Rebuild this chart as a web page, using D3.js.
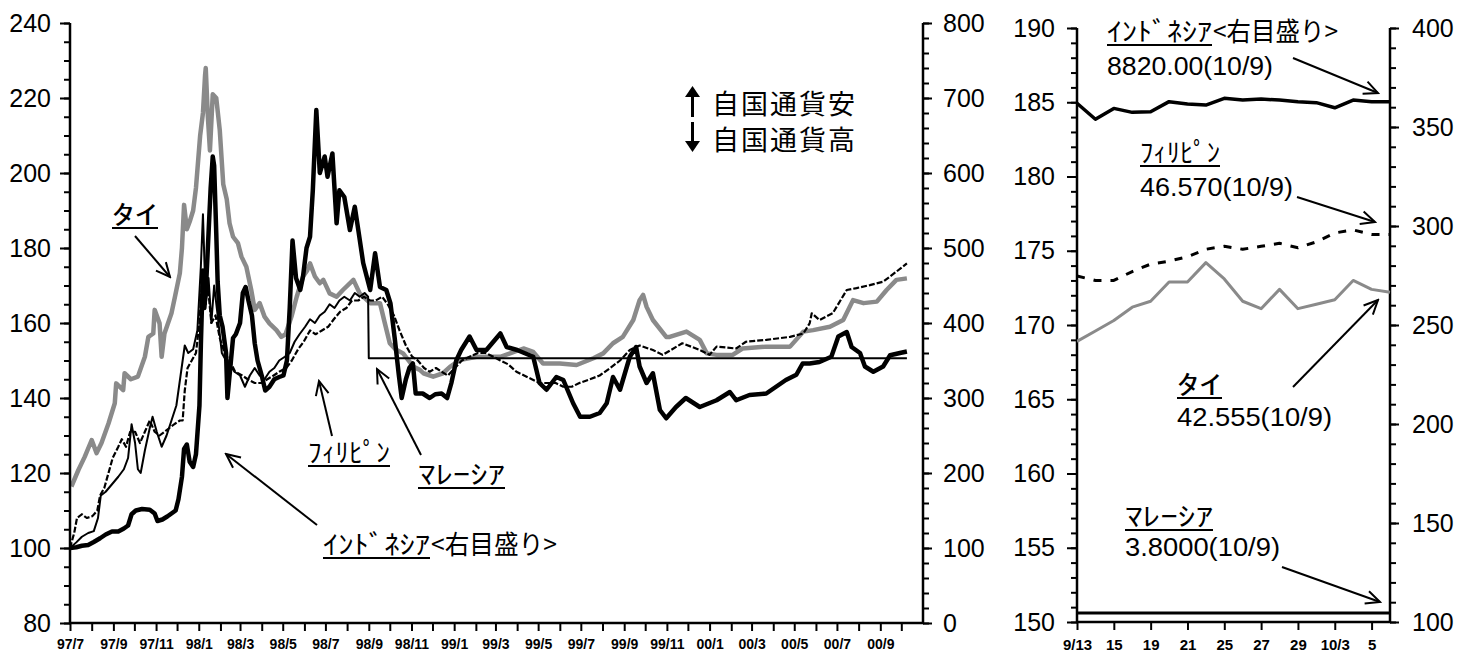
<!DOCTYPE html>
<html>
<head>
<meta charset="utf-8">
<script src="https://cdn.jsdelivr.net/npm/d3@7"></script>
<style>
  body { margin: 0; background: #fff; }
  svg { display: block; background: #fff; }
  .num { font-family: "Liberation Sans", Arial, sans-serif; }
  .jp { font-family: "Noto Sans CJK JP", sans-serif; }
</style>
</head>
<body>
<svg id="chart" width="1469" height="657"></svg>
<script>
"use strict";

// ---- long-run index (97/7 = 100), left panel ----
const thai = [
  ["97-07-03",116.4],["97-07-13",120.8],["97-07-22",124.3],["97-08-01",128.8],["97-08-08",125.3],["97-08-15",128],
  ["97-08-25",133.2],["97-09-03",138.6],["97-09-05",143.9],["97-09-15",142.1],["97-09-17",146.6],["97-09-26",145],
  ["97-10-06",145.7],["97-10-16",151],["97-10-21",156.3],["97-10-28",157.2],["97-10-30",163.5],["97-11-06",159.9],
  ["97-11-09",151],["97-11-13",157.2],["97-11-23",162.6],["97-11-28",167],["97-12-05",173.3],["97-12-08",180],
  ["97-12-11",191.5],["97-12-15",185],["97-12-19",187],["97-12-24",190],["97-12-28",196],["98-01-03",210],
  ["98-01-07",216],["98-01-10",226],["98-01-11",228],["98-01-14",215],["98-01-17",206],["98-01-21",221],
  ["98-01-26",220],["98-01-31",211.5],["98-02-05",197],["98-02-10",193],["98-02-14",186.6],["98-02-19",183],
  ["98-02-26",181.3],["98-03-03",177.7],["98-03-10",175],["98-03-17",168.8],["98-03-22",163.5],["98-03-29",165.3],
  ["98-04-05",161.7],["98-04-12",159.9],["98-04-22",158.1],["98-04-29",156.3],["98-05-05",157],["98-05-14",162],
  ["98-05-21",167],["98-05-30",172.4],["98-06-05",174],["98-06-09",175.9],["98-06-16",172.4],["98-06-23",170.6],
  ["98-06-28",171.5],["98-07-07",167.9],["98-07-17",167],["98-07-26",168.8],["98-08-10",171.5],["98-08-19",167.9],
  ["98-09-03",165.3],["98-09-17",165.3],["98-09-24",159.9],["98-10-01",154.6],["98-10-09",153],["98-10-20",151.9],
  ["98-11-04",148.3],["98-11-13",147.5],["98-11-18",146.6],["98-12-02",145.7],["98-12-16",146.6],["98-12-26",148.3],
  ["99-01-09",150.1],["99-02-02",151],["99-03-08",151],["99-04-10",153.2],["99-04-24",152.3],["99-05-08",149.2],
  ["99-06-01",149.2],["99-06-25",148.8],["99-07-19",150.6],["99-08-02",151.9],["99-08-16",154.6],["99-08-30",156.3],
  ["99-09-14",160.8],["99-09-23",166.1],["99-09-28",167.5],["99-10-03",164.3],["99-10-12",160.8],["99-10-31",156.3],
  ["99-11-05",156.3],["99-11-29",157.7],["99-12-18",155.5],["99-12-28",151.9],["00-01-11",151.5],["00-02-03",151.5],
  ["00-02-17",153.2],["00-03-22",153.7],["00-04-25",153.7],["00-05-14",157.7],["00-05-28",158.1],["00-06-21",159],
  ["00-07-10",160.8],["00-07-24",166.1],["00-08-08",165.3],["00-08-27",165.7],["00-09-10",168.8],["00-09-24",171.5],
  ["00-10-09",171.9]
];

const malaysia = [
  ["97-07-01",100],["97-07-10",101.5],["97-07-18",103],["97-07-27",104],["97-08-04",104.5],["97-08-10",108],
  ["97-08-14",114],["97-08-21",115],["97-08-30",117],["97-09-08",119],["97-09-16",121],["97-09-22",124],
  ["97-09-27",133],["97-10-02",128],["97-10-06",121],["97-10-10",120],["97-10-16",126],["97-10-23",132],
  ["97-10-27",135],["97-11-02",131],["97-11-09",127],["97-11-16",130],["97-11-23",134],["97-11-30",138],
  ["97-12-06",146],["97-12-12",154],["97-12-17",152],["97-12-24",153],["97-12-30",158],["98-01-04",175],
  ["98-01-07",189],["98-01-11",165],["98-01-15",172],["98-01-19",160],["98-01-23",170],["98-01-28",162],
  ["98-02-03",152],["98-02-09",150],["98-02-14",149],["98-02-21",147],["98-03-01",146],["98-03-08",143],
  ["98-03-15",146],["98-03-22",148],["98-03-29",146],["98-04-05",145],["98-04-12",147],["98-04-19",148],
  ["98-04-26",150],["98-05-04",151],["98-05-11",152],["98-05-18",155],["98-05-25",157],["98-06-02",159],
  ["98-06-09",161],["98-06-16",160],["98-06-23",162],["98-06-30",163],["98-07-07",165],["98-07-14",164],
  ["98-07-21",166],["98-07-28",167],["98-08-05",166],["98-08-12",168],["98-08-19",167],["98-08-26",168],
  ["98-08-31",167],["98-09-01",150.6],["00-10-09",150.6]
];

const philippines = [
  ["97-07-01",100],["97-07-07",104],["97-07-11",108],["97-07-18",109],["97-07-25",108],["97-08-02",108.5],
  ["97-08-09",110],["97-08-13",114],["97-08-19",116],["97-08-25",120],["97-08-31",124],["97-09-08",127],
  ["97-09-13",129],["97-09-19",127],["97-09-25",131],["97-10-02",131],["97-10-09",128],["97-10-16",131],
  ["97-10-23",134],["97-10-30",131],["97-11-06",130],["97-11-13",131],["97-11-20",132],["97-11-27",133],
  ["97-12-05",134],["97-12-09",134],["97-12-12",142],["97-12-16",148],["97-12-22",150],["97-12-28",152],
  ["98-01-02",160],["98-01-06",172],["98-01-10",165],["98-01-14",170],["98-01-19",160],["98-01-25",162],
  ["98-01-31",156],["98-02-07",152],["98-02-14",150],["98-02-22",147],["98-03-04",146],["98-03-12",145],
  ["98-03-22",144],["98-04-01",144],["98-04-09",145],["98-04-18",146],["98-04-26",147],["98-05-06",148],
  ["98-05-14",150],["98-05-23",153],["98-05-31",155],["98-06-09",158],["98-06-17",157],["98-06-26",158],
  ["98-07-05",159],["98-07-13",161],["98-07-22",163],["98-07-31",164],["98-08-08",166],["98-08-17",166],
  ["98-08-25",167],["98-09-03",166],["98-09-11",166],["98-09-20",167],["98-09-28",165],["98-10-07",162],
  ["98-10-15",158],["98-10-24",154],["98-11-02",151],["98-11-10",150],["98-11-19",148],["98-11-27",147],
  ["98-12-06",148],["98-12-14",147],["98-12-23",146],["99-01-02",148],["99-01-12",150],["99-01-23",151],
  ["99-02-04",152],["99-02-15",152],["99-02-26",151],["99-03-08",150],["99-03-19",149],["99-03-31",147],
  ["99-04-11",146],["99-04-22",145],["99-05-03",144],["99-05-15",144],["99-05-26",144],["99-06-06",143],
  ["99-06-18",143],["99-06-29",144],["99-07-14",145],["99-07-28",146],["99-08-12",148],["99-08-26",150],
  ["99-09-09",152.8],["99-09-23",154],["99-10-12",152.8],["99-10-26",151.5],["99-11-23",154.6],["99-12-18",152.8],
  ["00-01-01",151.5],["00-01-11",153.7],["00-02-08",153.2],["00-02-22",155],["00-03-22",155.5],["00-04-25",156.3],
  ["00-05-14",157.2],["00-05-23",159.9],["00-05-26",162.6],["00-06-06",160.8],["00-06-25",162.6],["00-07-15",168.8],
  ["00-07-29",169.3],["00-08-17",170.1],["00-09-05",171],["00-09-24",173.7],["00-10-09",175.9]
];

// Indonesia is read on the right-hand scale (0-800)
const indonesia = [
  ["97-07-01",100],["97-07-10",101],["97-07-18",103],["97-07-27",104],["97-08-04",108],["97-08-13",113],
  ["97-08-21",118],["97-08-30",122],["97-09-08",122],["97-09-16",126],["97-09-22",130],["97-09-27",145],
  ["97-10-03",150],["97-10-12",152],["97-10-23",151],["97-10-30",146],["97-11-03",136],["97-11-10",138],
  ["97-11-17",142],["97-11-23",146],["97-11-29",150],["97-12-03",165],["97-12-08",195],["97-12-11",232],
  ["97-12-15",238],["97-12-19",215],["97-12-24",208],["97-12-28",225],["98-01-02",290],["98-01-04",370],
  ["98-01-07",470],["98-01-09",420],["98-01-12",460],["98-01-15",520],["98-01-18",580],["98-01-21",622],
  ["98-01-23",610],["98-01-26",520],["98-01-28",455],["98-01-31",410],["98-02-04",395],["98-02-09",360],
  ["98-02-11",300],["98-02-14",330],["98-02-19",380],["98-02-23",385],["98-03-01",400],["98-03-05",440],
  ["98-03-09",448],["98-03-13",430],["98-03-18",410],["98-03-22",373],["98-03-26",350],["98-04-01",330],
  ["98-04-06",310],["98-04-12",315],["98-04-19",325],["98-04-26",328],["98-05-02",330],["98-05-07",350],
  ["98-05-11",420],["98-05-15",510],["98-05-20",460],["98-05-26",444],["98-05-30",462],["98-06-04",500],
  ["98-06-09",515],["98-06-13",577],["98-06-18",684],["98-06-23",600],["98-06-30",622],["98-07-04",595],
  ["98-07-11",626],["98-07-17",533],["98-07-21",577],["98-07-28",568],["98-08-05",524],["98-08-12",555],
  ["98-08-17",524],["98-08-24",480],["98-09-03",444],["98-09-10",493],["98-09-17",448],["98-09-26",444],
  ["98-10-02",426],["98-10-08",380],["98-10-14",330],["98-10-18",300],["98-10-24",325],["98-10-29",340],
  ["98-11-03",346],["98-11-07",306],["98-11-17",306],["98-11-27",300],["98-12-05",305],["98-12-14",306],
  ["98-12-22",300],["98-12-28",320],["99-01-04",350],["99-01-11",364],["99-01-23",382],["99-02-02",364],
  ["99-02-16",364],["99-03-08",386],["99-03-17",368],["99-04-01",364],["99-04-24",355],["99-05-03",320],
  ["99-05-13",311],["99-05-27",328],["99-06-06",324],["99-06-20",293],["99-06-30",275],["99-07-14",275],
  ["99-07-28",280],["99-08-07",293],["99-08-16",328],["99-08-26",311],["99-09-09",355],["99-09-18",368],
  ["99-09-23",342],["99-10-03",320],["99-10-12",333],["99-10-22",284],["99-10-31",273],["99-11-14",288],
  ["99-11-28",300],["99-12-18",288],["00-01-11",297],["00-01-30",308],["00-02-08",297],["00-02-27",304],
  ["00-03-22",306],["00-04-05",315],["00-04-19",324],["00-05-04",331],["00-05-13",346],["00-05-23",346],
  ["00-06-06",348],["00-06-23",355],["00-07-03",382],["00-07-15",388],["00-07-22",368],["00-08-03",360],
  ["00-08-10",342],["00-08-22",335],["00-09-05",342],["00-09-15",357],["00-09-29",360],["00-10-09",362]
];

// ---- recent days, right panel ----
const recentDates = ["9/13","9/14","9/15","9/18","9/19","9/20","9/21","9/22","9/25","9/26","9/27","9/28","9/29",
  "10/2","10/3","10/4","10/5","10/9"];
const thaiRecent = [168.9,169.6,170.3,171.2,171.6,172.9,172.9,174.2,173.1,171.6,171.1,172.4,171.1,171.4,171.7,173.0,172.4,172.2];
const philRecent = [173.3,173.0,173.0,173.6,174.1,174.3,174.6,175.1,175.3,175.1,175.3,175.5,175.2,175.6,176.2,176.4,176.1,176.1];
const malaysiaRecent = [150.6,150.6,150.6,150.6,150.6,150.6,150.6,150.6,150.6,150.6,150.6,150.6,150.6,150.6,150.6,150.6,150.6,150.6];
const indoRecent = [362.0,353.9,359.4,357.4,357.7,362.8,361.6,361.1,364.5,363.6,364.1,363.6,362.8,362.3,359.7,363.6,362.8,362.8];

const leftTicks = [80, 100, 120, 140, 160, 180, 200, 220, 240];
const indoTicks = [0, 100, 200, 300, 400, 500, 600, 700, 800];
const recentLeftTicks = [150, 155, 160, 165, 170, 175, 180, 185, 190];
const recentIndoTicks = [100, 150, 200, 250, 300, 350, 400];

const parse = d3.timeParse("%y-%m-%d");
const svg = d3.select("#chart");

// ---------- left panel ----------
const x = d3.scaleTime()
  .domain([new Date(1997, 6, 1), new Date(2000, 10, 1)])
  .range([70, 923]);
const yL = d3.scaleLinear().domain([80, 240]).range([623, 23]);
const yR = d3.scaleLinear().domain([0, 800]).range([623, 23]);

const lineL = d3.line().x(d => x(parse(d[0]))).y(d => yL(d[1]));
const lineR = d3.line().x(d => x(parse(d[0]))).y(d => yR(d[1]));

const plot = svg.append("g").attr("fill", "none").attr("stroke-linejoin", "round");
plot.append("path").attr("d", lineL(thai)).attr("stroke", "#8a8a8a").attr("stroke-width", 4.5);
plot.append("path").attr("d", lineR(indonesia)).attr("stroke", "#000").attr("stroke-width", 4.5);
plot.append("path").attr("d", lineL(malaysia)).attr("stroke", "#000").attr("stroke-width", 2);
plot.append("path").attr("d", lineL(philippines)).attr("stroke", "#000").attr("stroke-width", 2.2)
  .attr("stroke-dasharray", "6,2");

function styleAxis(g) {
  g.select(".domain").remove();
  g.selectAll(".tick line").attr("stroke", "#000").attr("stroke-width", 2);
  return g;
}

// minor + major ticks
svg.append("g").attr("transform", "translate(70,0)")
  .call(d3.axisLeft(yL).tickValues(d3.range(80, 241, 5)).tickSize(6).tickFormat("")).call(styleAxis);
svg.append("g").attr("class", "num").attr("transform", "translate(70,0)")
  .call(d3.axisLeft(yL).tickValues(leftTicks).tickSize(10).tickPadding(9)).call(styleAxis)
  .selectAll("text").attr("font-size", 25).attr("fill", "#000");

svg.append("g").attr("transform", "translate(923,0)")
  .call(d3.axisRight(yR).tickValues(d3.range(0, 801, 20)).tickSize(6).tickFormat("")).call(styleAxis);
svg.append("g").attr("class", "num").attr("transform", "translate(923,0)")
  .call(d3.axisRight(yR).tickValues(indoTicks).tickSize(9).tickPadding(11)).call(styleAxis)
  .selectAll("text").attr("font-size", 25).attr("fill", "#000");

const months = d3.timeMonth.range(new Date(1997, 6, 1), new Date(2000, 10, 1));
svg.append("g").attr("class", "num").attr("transform", "translate(0,623)")
  .call(d3.axisBottom(x).tickValues(months).tickSize(8).tickPadding(8)
    .tickFormat(d => (d.getMonth() % 2 === 0 ? d3.timeFormat("%y/%-m")(d) : "")))
  .call(styleAxis)
  .selectAll("text").attr("font-size", 14).attr("font-weight", "bold").attr("fill", "#000");

// axis lines
const frame = svg.append("g").attr("stroke", "#000").attr("stroke-width", 2.5);
frame.append("line").attr("x1", 70).attr("x2", 70).attr("y1", yL(240)).attr("y2", yL(80));
frame.append("line").attr("x1", 923).attr("x2", 923).attr("y1", yR(800)).attr("y2", yR(0));
frame.append("line").attr("x1", 69).attr("x2", 924).attr("y1", 623).attr("y2", 623);

// ---------- right panel ----------
const x2 = d3.scalePoint().domain(recentDates).range([1077, 1390]);
const y2L = d3.scaleLinear().domain([150, 190]).range([622, 28]);
const y2R = d3.scaleLinear().domain([100, 400]).range([622, 28]);

const lineRecentL = d3.line().x((d, i) => x2(recentDates[i])).y(d => y2L(d));
const lineRecentR = d3.line().x((d, i) => x2(recentDates[i])).y(d => y2R(d));

const plot2 = svg.append("g").attr("fill", "none").attr("stroke-linejoin", "round");
plot2.append("path").attr("d", lineRecentL(thaiRecent)).attr("stroke", "#8a8a8a").attr("stroke-width", 3);
plot2.append("path").attr("d", lineRecentL(philRecent)).attr("stroke", "#000").attr("stroke-width", 3)
  .attr("stroke-dasharray", "8,9");
plot2.append("path").attr("d", lineRecentL(malaysiaRecent)).attr("stroke", "#000").attr("stroke-width", 3);
plot2.append("path").attr("d", lineRecentR(indoRecent)).attr("stroke", "#000").attr("stroke-width", 3.5);

svg.append("g").attr("transform", "translate(1077,0)")
  .call(d3.axisLeft(y2L).tickValues(d3.range(150, 190.5, 1)).tickSize(6).tickFormat("")).call(styleAxis);
svg.append("g").attr("class", "num").attr("transform", "translate(1077,0)")
  .call(d3.axisLeft(y2L).tickValues(recentLeftTicks).tickSize(10).tickPadding(12)).call(styleAxis)
  .selectAll("text").attr("font-size", 25).attr("fill", "#000");

svg.append("g").attr("transform", "translate(1390,0)")
  .call(d3.axisRight(y2R).tickValues(d3.range(100, 401, 10)).tickSize(6).tickFormat("")).call(styleAxis);
svg.append("g").attr("class", "num").attr("transform", "translate(1390,0)")
  .call(d3.axisRight(y2R).tickValues(recentIndoTicks).tickSize(9).tickPadding(13)).call(styleAxis)
  .selectAll("text").attr("font-size", 25).attr("fill", "#000");

const recentTickValues = recentDates.filter((d, i) => i % 2 === 0 && i < recentDates.length - 1);
function recentLabel(d) {
  const i = recentDates.indexOf(d);
  if (i === 0) return d;
  const [m, day] = d.split("/");
  return recentDates[i - 2].split("/")[0] === m ? day : d;
}
svg.append("g").attr("class", "num").attr("transform", "translate(0,622)")
  .call(d3.axisBottom(x2).tickValues(recentTickValues).tickSize(8).tickPadding(9).tickFormat(recentLabel))
  .call(styleAxis)
  .selectAll("text").attr("font-size", 15).attr("font-weight", "bold").attr("fill", "#000");

frame.append("line").attr("x1", 1077).attr("x2", 1077).attr("y1", 28).attr("y2", 622);
frame.append("line").attr("x1", 1390).attr("x2", 1390).attr("y1", 28).attr("y2", 622);
frame.append("line").attr("x1", 1076).attr("x2", 1391).attr("y1", 622).attr("y2", 622);

// ---------- annotations ----------
const defs = svg.append("defs");
defs.append("marker").attr("id", "arrow").attr("viewBox", "-15 -8 17 16")
  .attr("refX", 0).attr("refY", 0).attr("markerWidth", 17).attr("markerHeight", 16)
  .attr("markerUnits", "userSpaceOnUse").attr("orient", "auto")
  .append("path").attr("d", "M-14,-6.5L0,0L-14,6.5").attr("fill", "none")
  .attr("stroke", "#000").attr("stroke-width", 2);

const labels = [
  { t: "ﾀｲ", x: 112, y: 224, w: 46, u: true },
  { t: "ﾌｨﾘﾋﾟﾝ", x: 308, y: 462, w: 82, u: true },
  { t: "ﾏﾚｰｼｱ", x: 418, y: 484, w: 87, u: true },
  { t: "ｲﾝﾄﾞﾈｼｱ", x: 323, y: 554, w: 107, u: true },
  { t: "<右目盛り>", x: 431, y: 554, w: 126 },
  { t: "ｲﾝﾄﾞﾈｼｱ", x: 1107, y: 41, w: 105, u: true },
  { t: "<右目盛り>", x: 1213, y: 41, w: 125 },
  { t: "ﾌｨﾘﾋﾟﾝ", x: 1140, y: 162, w: 80, u: true },
  { t: "ﾀｲ", x: 1177, y: 394, w: 45, u: true },
  { t: "ﾏﾚｰｼｱ", x: 1125, y: 526, w: 88, u: true }
];
const values = [
  { t: "8820.00(10/9)", x: 1107, y: 75, w: 166 },
  { t: "46.570(10/9)", x: 1140, y: 196, w: 153 },
  { t: "42.555(10/9)", x: 1177, y: 426, w: 155 },
  { t: "3.8000(10/9)", x: 1125, y: 556, w: 155 }
];
const arrows = [
  [135, 236, 170, 277], [332, 436, 319, 381], [421, 455, 377, 369], [317, 525, 226, 454],
  [1293, 58, 1378, 93], [1297, 197, 1375, 222], [1293, 387, 1378, 300], [1282, 567, 1380, 602]
];

const notes = svg.append("g");
labels.forEach(l => {
  notes.append("text").attr("class", "jp").attr("x", l.x).attr("y", l.y)
    .attr("font-size", 26).attr("textLength", l.w).attr("lengthAdjust", "spacingAndGlyphs").text(l.t);
  if (l.u) {
    notes.append("line").attr("x1", l.x).attr("x2", l.x + l.w).attr("y1", l.y + 4).attr("y2", l.y + 4)
      .attr("stroke", "#000").attr("stroke-width", 2);
  }
});
values.forEach(v => {
  notes.append("text").attr("class", "num").attr("x", v.x).attr("y", v.y)
    .attr("font-size", 25).attr("textLength", v.w).attr("lengthAdjust", "spacingAndGlyphs").text(v.t);
});
arrows.forEach(a => {
  notes.append("line").attr("x1", a[0]).attr("y1", a[1]).attr("x2", a[2]).attr("y2", a[3])
    .attr("stroke", "#000").attr("stroke-width", 2).attr("marker-end", "url(#arrow)");
});

// currency direction legend
notes.append("text").attr("class", "jp").attr("x", 712).attr("y", 114).attr("font-size", 27)
  .attr("textLength", 143).text("自国通貨安");
notes.append("text").attr("class", "jp").attr("x", 712).attr("y", 150).attr("font-size", 27)
  .attr("textLength", 143).text("自国通貨高");
notes.append("path").attr("d", "M692.5,117V92").attr("stroke", "#000").attr("stroke-width", 3);
notes.append("path").attr("d", "M685,97L692.5,86L700,97Z").attr("fill", "#000");
notes.append("path").attr("d", "M692.5,122V146").attr("stroke", "#000").attr("stroke-width", 3);
notes.append("path").attr("d", "M685,141L692.5,152L700,141Z").attr("fill", "#000");
</script>
</body>
</html>
